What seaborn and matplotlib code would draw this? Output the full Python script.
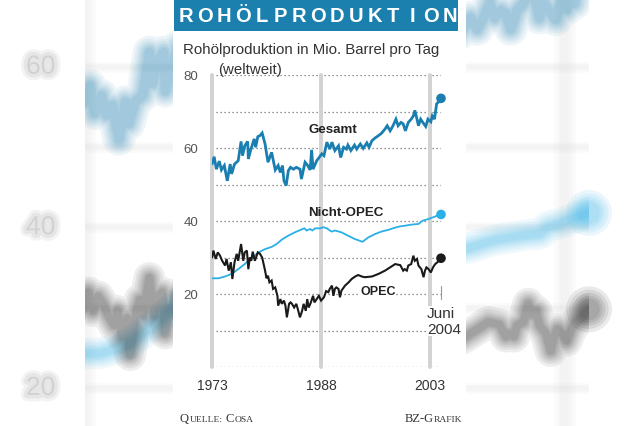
import matplotlib
matplotlib.use("Agg")
import matplotlib.pyplot as plt
import matplotlib.patheffects as pe
from matplotlib.patches import Rectangle
import pandas as pd
import seaborn as sns

# Werte (Mio. Barrel pro Tag)
gesamt_jahr = [1973.0, 1973.3, 1973.6, 1974.0, 1974.3, 1974.7, 1975.1, 1975.5, 1975.7, 1976.1,
               1976.6, 1977.0, 1977.2, 1977.5, 1977.9, 1978.0, 1978.3, 1978.8, 1979.0, 1979.3,
               1979.6, 1979.9, 1980.3, 1980.7, 1981.2, 1981.7, 1982.1, 1982.4, 1982.7, 1982.9,
               1983.2, 1983.5, 1983.8, 1984.2, 1984.6, 1985.1, 1985.3, 1985.8, 1986.1, 1986.5,
               1986.7, 1986.9, 1987.4, 1988.1, 1988.4, 1988.8, 1989.2, 1989.5, 1989.9, 1990.4,
               1990.7, 1991.1, 1991.5, 1991.7, 1992.1, 1992.6, 1992.9, 1993.4, 1993.8, 1994.3,
               1994.6, 1995.0, 1995.4, 1995.9, 1996.3, 1996.8, 1997.1, 1997.5, 1997.9, 1998.3,
               1998.6, 1999.0, 1999.3, 1999.6, 2000.0, 2000.4, 2000.7, 2000.9, 2001.2, 2001.4,
               2001.7, 2002.0, 2002.4, 2002.7, 2003.1, 2003.3, 2003.6, 2003.9, 2004.1, 2004.5]
gesamt_wert = [55.6, 57.6, 54.2, 56.4, 54.0, 55.2, 51.0, 55.6, 52.9, 55.6,
               56.5, 61.8, 57.9, 60.6, 61.8, 57.0, 59.3, 62.5, 60.2, 63.1,
               63.4, 64.1, 61.1, 56.1, 58.8, 54.0, 55.2, 53.3, 55.2, 51.0,
               49.7, 53.8, 54.7, 54.2, 54.7, 54.2, 51.5, 56.1, 55.4, 54.0,
               59.5, 54.2, 56.5, 58.4, 57.9, 61.6, 59.7, 61.6, 59.3, 60.6,
               57.4, 60.2, 59.7, 60.8, 59.3, 60.8, 59.7, 61.1, 59.9, 61.4,
               60.2, 62.0, 62.7, 63.4, 64.0, 65.2, 66.1, 64.7, 66.1, 67.9,
               66.1, 67.0, 66.6, 64.7, 67.0, 67.9, 68.8, 70.3, 67.9, 66.1,
               67.9, 67.0, 65.9, 67.9, 67.2, 68.8, 67.9, 72.1, 72.5, 73.6]

nicht_opec_jahr = [1973.0, 1973.9, 1974.8, 1975.7, 1976.6, 1977.5, 1978.5, 1979.4, 1980.3, 1981.2,
                   1981.9, 1982.6, 1983.5, 1984.4, 1985.1, 1985.7, 1986.0, 1986.5, 1986.8, 1987.2,
                   1987.9, 1988.3, 1988.8, 1989.2, 1989.5, 1989.9, 1990.8, 1991.7, 1992.6, 1993.7,
                   1994.5, 1995.4, 1996.3, 1997.3, 1997.9, 1998.4, 1998.8, 1999.5, 2000.4, 2001.4,
                   2002.0, 2002.7, 2003.4, 2003.9, 2004.5]
nicht_opec_wert = [24.3, 24.3, 24.8, 25.5, 26.8, 28.2, 30.0, 31.4, 32.3, 32.9,
                   33.7, 34.9, 36.0, 36.9, 37.5, 38.0, 37.4, 37.8, 37.4, 38.0,
                   38.0, 38.3, 38.0, 37.4, 37.1, 37.4, 36.9, 36.0, 35.1, 34.3,
                   35.5, 36.4, 37.1, 37.6, 38.0, 38.3, 38.5, 38.7, 39.0, 39.2,
                   40.1, 40.5, 41.0, 41.4, 41.8]

opec_jahr = [1973.0, 1973.2, 1973.5, 1973.8, 1974.1, 1974.4, 1974.8, 1975.0, 1975.3, 1975.6,
             1975.8, 1976.1, 1976.4, 1976.6, 1977.0, 1977.3, 1977.5, 1977.8, 1978.0, 1978.2,
             1978.4, 1978.6, 1978.9, 1979.3, 1979.6, 1979.9, 1980.3, 1980.5, 1980.7, 1980.9,
             1981.2, 1981.4, 1981.7, 1982.0, 1982.1, 1982.4, 1982.6, 1982.9, 1983.1, 1983.3,
             1983.6, 1983.8, 1984.0, 1984.3, 1984.6, 1984.8, 1985.1, 1985.4, 1985.6, 1985.9,
             1986.1, 1986.3, 1986.6, 1986.9, 1987.1, 1987.4, 1987.7, 1988.0, 1988.4, 1988.7,
             1989.0, 1989.2, 1989.5, 1989.7, 1989.9, 1990.1, 1990.4, 1990.6, 1990.8, 1991.3,
             1991.8, 1992.2, 1992.7, 1993.1, 1993.6, 1994.0, 1995.0, 1995.9, 1996.8, 1997.5,
             1998.2, 1998.9, 1999.3, 1999.5, 1999.8, 2000.0, 2000.4, 2000.7, 2000.9, 2001.2,
             2001.4, 2001.6, 2001.8, 2002.1, 2002.3, 2002.5, 2002.8, 2003.1, 2003.4, 2003.7,
             2004.0, 2004.5]
opec_wert = [30.0, 31.9, 29.6, 31.4, 30.5, 29.1, 27.8, 29.6, 26.4, 28.7,
             24.1, 28.7, 31.0, 29.1, 33.7, 29.1, 31.4, 31.9, 26.8, 30.0,
             29.1, 31.6, 29.1, 31.4, 31.0, 30.0, 26.4, 24.3, 25.0, 23.2,
             23.7, 21.4, 21.8, 19.5, 16.8, 18.6, 17.3, 18.2, 16.8, 13.6,
             17.3, 17.7, 17.3, 16.3, 17.3, 15.9, 13.6, 15.4, 17.3, 15.4,
             18.6, 16.3, 17.7, 19.5, 17.7, 18.6, 19.5, 18.2, 19.1, 20.8,
             20.5, 21.4, 22.3, 19.5, 21.4, 21.8, 21.4, 19.1, 20.9, 22.3,
             23.2, 24.1, 24.8, 25.2, 24.8, 24.6, 24.8, 25.5, 26.4, 27.3,
             28.2, 27.9, 26.4, 26.8, 26.4, 27.8, 28.2, 30.5, 29.1, 29.6,
             27.8, 27.3, 26.8, 24.6, 26.4, 27.3, 26.8, 25.9, 27.3, 28.2,
             28.7, 29.8]

x_ticks = [1973, 1988, 2003]
y_ticks = [20, 40, 60, 80]
x_min, x_max = 1973, 2004.5

BLAU = "#1a7fb0"
HELLBLAU = "#2aafe6"
SCHWARZ = "#1a1a1a"
TITEL_BLAU = "#1b80ad"

gesamt = pd.DataFrame({"jahr": gesamt_jahr, "wert": gesamt_wert})
nicht_opec = pd.DataFrame({"jahr": nicht_opec_jahr, "wert": nicht_opec_wert})
opec = pd.DataFrame({"jahr": opec_jahr, "wert": opec_wert})
reihen = [(gesamt, BLAU, 2.0), (nicht_opec, HELLBLAU, 1.3), (opec, SCHWARZ, 1.5)]

sns.set_theme(style="white")
plt.rcParams["font.family"] = ["Liberation Sans", "DejaVu Sans"]

W, H = 640, 427
fig = plt.figure(figsize=(6.4, 4.27), dpi=100)


def fx(px):
    return px / W


def fy(py):
    return 1 - py / H


# unscharfer, vergroesserter Hintergrund (weichgezeichnet durch Schichten)
bg = fig.add_axes([fx(85.4), fy(549.6), 503.6 / W, 642.4 / H], zorder=0)
bg.set_xlim(x_min, x_max)
bg.set_ylim(0, 80)
bg.axis("off")
for v in range(0, 81, 10):
    for lw in (8, 5, 3):
        bg.axhline(v, color="#999999", lw=lw, alpha=0.03)
for j in x_ticks:
    for lw in (16, 11, 7):
        bg.axvline(j, color="#aaaaaa", lw=lw, alpha=0.04)
for df, farbe, lw in reihen:
    for extra in (20, 16, 12.5, 9.5, 7, 4.5, 2.5):
        sns.lineplot(data=df, x="jahr", y="wert", color=farbe, lw=lw * 2.0 + extra,
                     alpha=0.072, ax=bg, solid_capstyle="round", solid_joinstyle="round")
    letzter = df.tail(1)
    for s in (1100, 800, 560, 380, 240):
        bg.scatter(letzter["jahr"], letzter["wert"], s=s, color=farbe, alpha=0.09,
                   edgecolors="none", clip_on=False)
for v in y_ticks[:-1]:
    bg.text(1970.2, v, str(v), ha="center", va="center", fontsize=19, color="#d2d2d2",
            path_effects=[pe.Stroke(linewidth=9, foreground="#f3f3f3"),
                          pe.Stroke(linewidth=5, foreground="#e6e6e6"), pe.Normal()])

# weisse Tafel und Titelbalken
fig.add_artist(Rectangle((fx(173), 0), (466 - 173) / W, 1, transform=fig.transFigure,
                         facecolor="white", edgecolor="none", zorder=1))
fig.add_artist(Rectangle((fx(174), fy(32)), (458 - 174) / W, 31 / H, transform=fig.transFigure,
                         facecolor=TITEL_BLAU, edgecolor="none", zorder=1.5))
for i, ch in enumerate("ROHÖLPRODUKTION"):
    fig.text(fx(186 + i * 18.85), fy(17), ch, ha="center", va="center", color="white",
             fontsize=14.5, fontweight="bold", zorder=3)

fig.text(fx(183), fy(50), "Rohölproduktion in Mio. Barrel pro Tag", ha="left", va="center",
         fontsize=10.8, color="#333333", zorder=3)
fig.text(fx(218), fy(70), "(weltweit)", ha="left", va="center",
         fontsize=10.8, color="#333333", zorder=3)

# Hauptdiagramm
ax = fig.add_axes([fx(212), fy(368), 229 / W, 292 / H], zorder=2)
ax.set_facecolor("none")
ax.set_xlim(x_min, x_max)
ax.set_ylim(0, 80)

for v in range(0, 81, 10):
    ax.axhline(v, color="#6e6e6e", lw=0.9, ls=(0, (1, 2.2)), zorder=1)
for j in x_ticks:
    ax.axvline(j, color="#d2d2d2", lw=2.8, zorder=1.5, clip_on=False)

for df, farbe, lw in reihen:
    sns.lineplot(data=df, x="jahr", y="wert", color=farbe, lw=lw, ax=ax, zorder=3,
                 solid_joinstyle="miter")
    sns.scatterplot(data=df.tail(1), x="jahr", y="wert", color=farbe, s=48,
                    edgecolor="none", ax=ax, zorder=4, clip_on=False)

ax.plot([x_max, x_max], [18.5, 22.2], color="#999999", lw=0.8, clip_on=False, zorder=2)

ax.text(1989.6, 65.2, "Gesamt", ha="center", va="center", fontsize=9.6,
        fontweight="bold", color="#222222", zorder=5)
ax.text(1991.4, 42.5, "Nicht-OPEC", ha="center", va="center", fontsize=9.6,
        fontweight="bold", color="#222222", zorder=5)
ax.text(1995.8, 20.7, "OPEC", ha="center", va="center", fontsize=9.0,
        fontweight="bold", color="#222222", zorder=5,
        bbox=dict(facecolor="white", edgecolor="none", pad=0.6))
ax.text(2002.6, 12.6, "Juni\n2004", ha="left", va="center", fontsize=11,
        color="#333333", linespacing=1.1, zorder=5,
        bbox=dict(facecolor="white", edgecolor="none", pad=0.5))

ax.set_xticks(x_ticks)
ax.set_xticklabels([str(j) for j in x_ticks], fontsize=10, color="#333333")
ax.set_yticks(y_ticks)
ax.set_yticklabels([str(v) for v in y_ticks], fontsize=9.5, color="#555555")
ax.tick_params(axis="x", length=0, pad=8)
ax.tick_params(axis="y", length=0, pad=10)
ax.set_xlabel("")
ax.set_ylabel("")
sns.despine(ax=ax, left=True, bottom=True)

# Fusszeile in Kapitaelchen
renderer = fig.canvas.get_renderer()


def kapitaelchen(x_px, y_px, teile, rechts=False):
    texte = []
    x = fx(x_px)
    for s, gross, luecke in teile:
        t = fig.text(x, fy(y_px), s, fontsize=9.0 if gross else 6.8, color="#333333",
                     family="Liberation Serif", ha="left", va="baseline", zorder=3)
        x += t.get_window_extent(renderer).width / W + luecke / W
        texte.append(t)
    if rechts:
        shift = fx(x_px) - x
        for t in texte:
            t.set_x(t.get_position()[0] + shift)


kapitaelchen(180, 422, [("Q", True, 0.3), ("UELLE:", False, 3.2), ("C", True, 0.3), ("OSA", False, 0)])
kapitaelchen(462, 422, [("BZ-G", True, 0.3), ("RAFIK", False, 0)], rechts=True)

fig.savefig("out.png", dpi=100, facecolor="white")
